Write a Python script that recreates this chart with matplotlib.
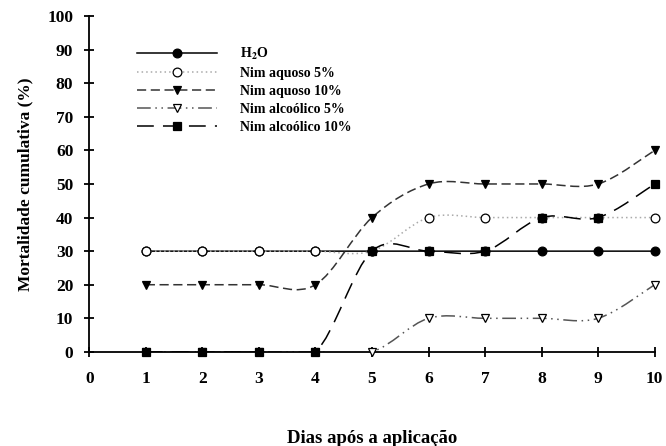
import numpy as np
import matplotlib
matplotlib.use('Agg')
import matplotlib.pyplot as plt
from matplotlib.path import Path
from matplotlib.patches import PathPatch
from matplotlib.lines import Line2D

plt.rcParams['font.family'] = ['Liberation Serif', 'DejaVu Serif']
plt.rcParams['font.weight'] = 'bold'
plt.rcParams['mathtext.fontset'] = 'stix'

# dados
dias = [1, 2, 3, 4, 5, 6, 7, 8, 9, 10]
h2o = [30, 30, 30, 30, 30, 30, 30, 30, 30, 30]
aquoso5 = [30, 30, 30, 30, 30, 40, 40, 40, 40, 40]
aquoso10 = [20, 20, 20, 20, 40, 50, 50, 50, 50, 60]
alcoolico5 = [0, 0, 0, 0, 0, 10, 10, 10, 10, 20]
alcoolico10 = [0, 0, 0, 0, 30, 30, 30, 40, 40, 50]
rotulos = [r'H$_\mathbf{2}$O', 'Nim aquoso 5%', 'Nim aquoso 10%',
           'Nim alcoólico 5%', 'Nim alcoólico 10%']


def curva_suave(x, y):
    # spline de Catmull-Rom desenhada como curvas de Bezier
    x = np.asarray(x, float)
    y = np.asarray(y, float)
    pts = np.column_stack([x, y])
    n = len(pts)
    verts = [pts[0]]
    codes = [Path.MOVETO]
    for i in range(n - 1):
        p0 = pts[i - 1] if i > 0 else pts[i]
        p1 = pts[i]
        p2 = pts[i + 1]
        p3 = pts[i + 2] if i + 2 < n else pts[i + 1]
        c1 = p1 + (p2 - p0) / 6.0
        c2 = p2 - (p3 - p1) / 6.0
        verts += [c1, c2, p2]
        codes += [Path.CURVE4] * 3
    return Path(verts, codes)


fig = plt.figure(figsize=(6.66, 4.46), dpi=100)
ax = fig.add_axes([0.134, 0.211, 0.849, 0.753])

series = [h2o, aquoso5, aquoso10, alcoolico5, alcoolico10]
estilos = [
    dict(color='black', ls='-', marker='o', mfc='black'),
    dict(color='#aaaaaa', ls=(0, (1, 2)), marker='o', mfc='white'),
    dict(color='#333333', ls=(0, (6, 3)), marker='v', mfc='black'),
    dict(color='#555555', ls=(0, (9, 3, 1, 3, 1, 3)), marker='v', mfc='white'),
    dict(color='black', ls=(0, (11, 6)), marker='s', mfc='black'),
]

handles = []
for vals, est, rot in zip(series, estilos, rotulos):
    patch = PathPatch(curva_suave(dias, vals), facecolor='none',
                      edgecolor=est['color'], linestyle=est['ls'], lw=1.1,
                      zorder=2)
    ax.add_patch(patch)
    ax.plot(dias, vals, ls='none', marker=est['marker'], ms=6.3,
            mfc=est['mfc'], mec='black', mew=0.9, clip_on=False, zorder=4)
    handles.append(Line2D([], [], color=est['color'], ls=est['ls'], lw=1.1,
                          marker=est['marker'], ms=6.3, mfc=est['mfc'],
                          mec='black', mew=0.9))

ax.set_xlim(0, 10)
ax.set_ylim(0, 100)
ax.set_xticks(range(0, 11))
ax.set_yticks(range(0, 101, 10))
ax.spines['top'].set_visible(False)
ax.spines['right'].set_visible(False)
ax.spines['left'].set_linewidth(1.3)
ax.spines['bottom'].set_linewidth(1.3)
ax.tick_params(direction='inout', length=7, width=1.3, labelsize=12.5)
ax.tick_params(axis='x', pad=10)
ax.tick_params(axis='y', pad=8)
for lab in ax.get_xticklabels() + ax.get_yticklabels():
    lab.set_fontweight('bold')

ax.set_xlabel('Dias após a aplicação', fontsize=13.5, fontweight='bold', labelpad=31)
ax.set_ylabel('Mortalidade cumulativa (%)', fontsize=12.5, fontweight='bold', labelpad=10)

ax.legend(handles, rotulos, loc='upper left', bbox_to_anchor=(0.062, 0.948),
          frameon=False, handlelength=5.8, handletextpad=1.6,
          labelspacing=0.35, prop={'weight': 'bold', 'size': 10})

fig.savefig('out.png', dpi=100)
